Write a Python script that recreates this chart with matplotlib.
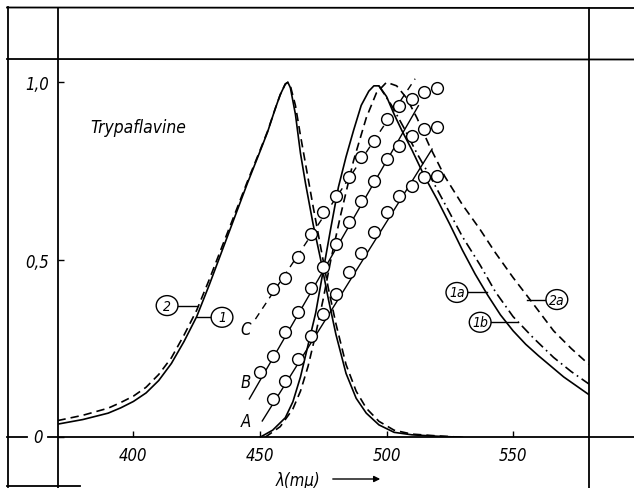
import matplotlib
matplotlib.use('Agg')
import matplotlib.pyplot as plt
from matplotlib.lines import Line2D
from matplotlib.patches import Ellipse, FancyArrowPatch

# ---------------- data ----------------
abs_nm = [370, 380, 390, 395, 400, 405, 410, 415, 420, 425, 430, 435, 440, 445, 450, 453, 456, 458,
          460, 461, 462, 464, 466, 468, 471, 474, 477, 480, 484, 488, 492, 497, 503, 510, 520, 530]
abs_1 = [0.037, 0.050, 0.068, 0.083, 0.101, 0.125, 0.160, 0.208, 0.270, 0.340, 0.430, 0.525,
         0.620, 0.715, 0.805, 0.860, 0.925, 0.965, 0.995, 1.000, 0.985, 0.910, 0.800, 0.715,
         0.600, 0.500, 0.390, 0.290, 0.180, 0.110, 0.068, 0.035, 0.014, 0.007, 0.003, 0.0]
abs_2 = [0.047, 0.062, 0.082, 0.098, 0.116, 0.141, 0.177, 0.224, 0.288, 0.358, 0.445, 0.537,
         0.628, 0.720, 0.808, 0.862, 0.925, 0.965, 0.995, 1.000, 0.990, 0.935, 0.850, 0.770,
         0.650, 0.535, 0.420, 0.320, 0.205, 0.130, 0.082, 0.045, 0.020, 0.009, 0.004, 0.0]

em_nm = [450, 455, 460, 463, 466, 469, 472, 475, 478, 481, 484, 487, 490, 493, 495, 497, 500,
         503, 506, 510, 515, 520, 525, 530, 535, 540, 545, 550, 555, 560, 565, 570, 575, 580]
em_1a = [0.0, 0.020, 0.055, 0.100, 0.170, 0.260, 0.350, 0.470, 0.590, 0.705, 0.790, 0.865, 0.935,
         0.975, 0.990, 0.990, 0.960, 0.910, 0.865, 0.810, 0.735, 0.670, 0.600, 0.527, 0.460, 0.400,
         0.345, 0.300, 0.262, 0.230, 0.200, 0.170, 0.145, 0.120]
em2a_nm = [452, 458, 463, 466, 469, 472, 475, 478, 482, 487, 492, 496, 500, 504, 508, 512, 517,
           523, 530, 537, 543, 550, 557, 566, 573, 580]
em_2a = [0.0, 0.030, 0.080, 0.130, 0.200, 0.290, 0.390, 0.500, 0.630, 0.780, 0.900, 0.970, 1.000,
         0.990, 0.955, 0.900, 0.820, 0.735, 0.655, 0.585, 0.520, 0.450, 0.385, 0.300, 0.250, 0.205]
em1b_nm = [497, 502, 507, 512, 518, 524, 530, 537, 543, 550, 558, 566, 573, 580]
em_1b = [0.990, 0.935, 0.870, 0.800, 0.725, 0.645, 0.565, 0.485, 0.410, 0.340, 0.280, 0.225,
         0.185, 0.150]

pts_nm = [450, 455, 460, 465, 470, 475, 480, 485, 490, 495, 500, 505, 510, 515, 520]
pts_A = [None, 0.108, 0.159, 0.220, 0.286, 0.347, 0.404, 0.465, 0.520, 0.577, 0.634, 0.680,
         0.709, 0.732, 0.737]
pts_B = [0.183, 0.230, 0.296, 0.352, 0.420, 0.480, 0.545, 0.606, 0.667, 0.723, 0.784, 0.821,
         0.850, 0.868, 0.875]
pts_C = [None, 0.418, 0.450, 0.507, 0.573, 0.634, 0.680, 0.732, 0.789, 0.835, 0.897, 0.932,
         0.953, 0.972, 0.983]

line_A = ([450.9, 518.0], [0.046, 0.812])
line_B = ([445.8, 512.6], [0.108, 0.934])
line_C = ([448.2, 511.3], [0.333, 1.010])

xticks = [400, 450, 500, 550]
xticklabels = ['400', '450', '500', '550']
yticks = [0.0, 0.5, 1.0]
yticklabels = ['', '0,5', '1,0']

# ---------------- figure ----------------
W, H = 634, 489
fig = plt.figure(figsize=(W / 100, H / 100), dpi=100)
fig.patch.set_facecolor('white')

def fx(x):
    return x / W

def fy(y):
    return 1 - y / H

FONT = dict(family='DejaVu Sans', style='italic', stretch='condensed')

ax = fig.add_axes([fx(57.5), fy(438.3), fx(589) - fx(57.5), fy(60) - fy(438.3)])
ax.set_xlim(370, 580)
ax.set_ylim(0, 1.0656)
for s in ax.spines.values():
    s.set_visible(False)

ax.set_xticks(xticks)
ax.set_xticklabels(xticklabels, fontdict=dict(FONT, size=12))
ax.set_yticks(yticks)
ax.set_yticklabels(yticklabels, fontdict=dict(FONT, size=12))
ax.tick_params(axis='both', direction='in', length=4, width=1, pad=6, colors='black')

LW = 1.2
ax.plot(abs_nm, abs_1, color='black', lw=LW)
ax.plot(abs_nm, abs_2, color='black', lw=LW, ls=(0, (5, 3)))
ax.plot(em_nm, em_1a, color='black', lw=LW)
ax.plot(em2a_nm, em_2a, color='black', lw=LW, ls=(0, (5, 3)))
ax.plot(em1b_nm, em_1b, color='black', lw=LW, ls=(0, (6, 2.5, 1, 2.5)))

ax.plot(*line_A, color='black', lw=1.0)
ax.plot(*line_B, color='black', lw=1.0)
ax.plot(*line_C, color='black', lw=1.0, ls=(0, (5, 4)))

for pts in (pts_A, pts_B, pts_C):
    xs = [x for x, v in zip(pts_nm, pts) if v is not None]
    ys = [v for v in pts if v is not None]
    ax.plot(xs, ys, ls='none', marker='o', ms=8.5, mfc='white', mec='black', mew=1.0,
            zorder=5)

for lab, x, y in (('A', 444.6, 0.046), ('B', 444.2, 0.156), ('C', 444.2, 0.305)):
    ax.text(x, y, lab, ha='center', va='center', fontdict=dict(FONT, size=12))

ax.text(383, 0.874, 'Trypaflavine', ha='left', va='center', fontdict=dict(FONT, size=12.5))

# circled curve labels with leaders
circ = [('2', 413.3, 0.371, (417.8, 425.3), 0.371),
        ('1', 435.0, 0.338, (430.4, 425.2), 0.338),
        ('1a', 527.8, 0.408, (532.3, 539.7), 0.408),
        ('1b', 537.0, 0.324, (541.3, 551.5), 0.324),
        ('2a', 567.3, 0.388, (562.7, 555.6), 0.388)]
for lab, x, y, (x1, x2), yl in circ:
    ax.add_patch(Ellipse((x, y), 8.6, 0.056, fill=False, ec='black', lw=1.0))
    ax.text(x, y, lab, ha='center', va='center', fontdict=dict(FONT, size=10))
    ax.plot([x1, x2], [yl, yl], color='black', lw=1.0)

# frame lines of the scanned table
def fline(x1, y1, x2, y2, lw=1.3):
    fig.add_artist(Line2D([fx(x1), fx(x2)], [fy(y1), fy(y2)], transform=fig.transFigure,
                          color='black', lw=lw))

fline(7.5, 8, 7.5, 488)
fline(7, 8.5, 634, 9)
fline(7, 60, 634, 60.5)
fline(57.5, 9, 57.5, 489)
fline(589, 9, 589, 489)
fline(7, 438.3, 27, 438.3)
fline(48, 438.3, 634, 438.3)
fline(7, 487, 80, 487)

fig.text(fx(38), fy(438.3), '0', ha='center', va='center', fontdict=dict(FONT, size=12))
fig.text(fx(298), fy(481), 'λ(mμ)', ha='center', va='center', fontdict=dict(FONT, size=12))
fig.add_artist(FancyArrowPatch((fx(330), fy(480)), (fx(383), fy(480)),
               transform=fig.transFigure, arrowstyle='-|>', mutation_scale=9,
               color='black', lw=1.0))

fig.savefig('out.png', dpi=100)
